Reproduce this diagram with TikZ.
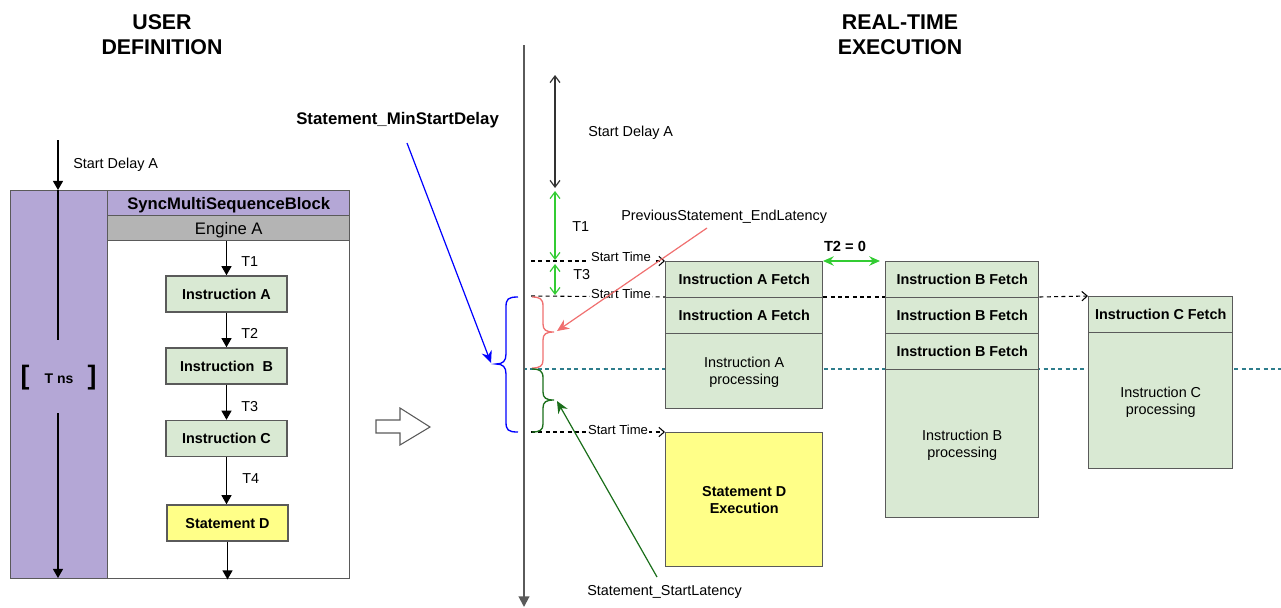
\documentclass[tikz,border=0pt]{standalone}
\usepackage{fontspec}
\setmainfont{Liberation Sans}
\usetikzlibrary{arrows.meta}
\definecolor{purp}{RGB}{180,167,214}
\definecolor{engray}{RGB}{180,180,180}
\definecolor{lgreen}{RGB}{217,233,211}
\definecolor{lyellow}{RGB}{255,255,136}
\definecolor{bgreen}{RGB}{51,204,51}
\definecolor{salmon}{RGB}{240,112,112}
\definecolor{dgreen}{RGB}{26,110,26}
\definecolor{teal2}{RGB}{46,125,140}
\definecolor{edge}{RGB}{90,90,90}
\newcommand\fsz[2]{\fontsize{#1}{#2}\selectfont}
\tikzset{
  every node/.style={text depth=0pt},
  rect/.style 2 args={minimum width=#1*0.75pt, minimum height=#2*0.75pt},
  box/.style={draw=edge, line width=1.1pt, inner sep=0pt, anchor=north west, align=center},
  inst/.style={draw=edge, line width=1.1pt, fill=lgreen, inner sep=0pt, font=\bfseries\fsz{10.8}{13}, rect={121}{36}},
  lbl/.style={inner sep=0pt, font=\fsz{10.8}{13}},
  title/.style={inner sep=0pt, align=center, font=\bfseries\fsz{16}{18.8}},
  arr/.style={line width=0.9pt, -{Triangle[length=6.8pt,width=7.5pt]}},
  barb/.style={line width=0.9pt, {Straight Barb[length=5pt,width=7.5pt]}-{Straight Barb[length=5pt,width=7.5pt]}},
  dsh/.style={line width=0.8pt, dash pattern=on 3pt off 2.5pt, -{Straight Barb[length=4pt,width=7pt]}},
  dshplain/.style={line width=0.8pt, dash pattern=on 3pt off 2.5pt},
  sttime/.style={fill=white, inner sep=1pt, font=\fsz{9.8}{12}},
  pointer/.style={line width=0.9pt, -{Stealth[length=9pt,width=8pt]}},
  fetch/.style={font=\bfseries\fsz{10.8}{13}},
  proc/.style={font=\fsz{10.8}{12.8}},
  brace/.style={line width=1pt}
}
\begin{document}
\begin{tikzpicture}[x=0.75pt,y=-0.75pt]
\useasboundingbox (0,0) rectangle (1281,607);
% titles
\node[title] (t_user) at (162,35) {USER\\DEFINITION};
\node[title] (t_rt) at (900,35) {REAL-TIME\\EXECUTION};
% ===== left panel =====
\node[box, fill=white, rect={339}{388}] (outer) at (10,190) {};
\node[box, fill=purp, rect={97}{388}] (col) at (10,190) {};
\node[box, fill=purp, rect={242}{25}, font=\bfseries\fsz{12.5}{15}] (hdr) at (107,190) {SyncMultiSequenceBlock};
\node[box, fill=engray, rect={242}{25}, font=\fsz{12.5}{15}] (eng) at (107,215) {Engine A};
\node[inst] (ia) at (226.5,294) {Instruction A};
\node[inst] (ib) at (226.5,366) {Instruction\ \ B};
\node[inst] (ic) at (226.5,438.5) {Instruction C};
\node[inst, fill=lyellow] (sd) at (227.5,523) {Statement D};
\draw[arr] (ia.north |- eng.south) -- (ia.north);
\draw[arr] (ia) -- (ib);
\draw[arr] (ib) -- (ic);
\draw[arr] (ic.south) -- (ic.south |- sd.north);
\draw[arr] (sd.south) -- (sd.south |- outer.south);
\node[lbl, anchor=west] (lt1) at (241,262) {T1};
\node[lbl, anchor=west] (lt2) at (241,333) {T2};
\node[lbl, anchor=west] (lt3) at (241,406) {T3};
\node[lbl, anchor=west] (lt4) at (242,479) {T4};
% column
\coordinate (sdtop) at (58,140);
\coordinate (coltop) at (58,190);
\coordinate (gaptop) at (58,340);
\coordinate (gapbot) at (58,413);
\coordinate (colbot) at (58,578);
\draw[arr] (sdtop) -- (coltop);
\node[lbl, anchor=west] (lsd) at (73,163) {Start Delay A};
\draw[line width=0.9pt] (coltop) -- (gaptop);
\draw[arr] (gapbot) -- (colbot);
\node[inner sep=0pt, font=\bfseries\fsz{20}{24}, text depth=] (lb) at (25,378) {[};
\node[inner sep=0pt, font=\bfseries\fsz{10.5}{13}] (tns) at (59,379) {T ns};
\node[inner sep=0pt, font=\bfseries\fsz{20}{24}, text depth=] (rb) at (92,378) {]};
% hollow arrow
\draw[line width=0.8pt, draw=edge, fill=white] (376,420) -- (400,420) -- (400,408) -- (430,427) -- (400,445) -- (400,433) -- (376,433) -- cycle;
% ===== right panel =====
\draw[teal2, dshplain] (523,369) -- (1281,369);
\coordinate (st1) at (531,261);
\coordinate (st2) at (531,296);
\coordinate (st3) at (531,432);
% boxes
\node[box, fill=lgreen, fetch, rect={157}{36}] (fa1) at (665,261) {Instruction A Fetch};
\node[box, fill=lgreen, fetch, rect={157}{36}] (fa2) at (665,297) {Instruction A Fetch};
\node[box, fill=lgreen, proc, rect={157}{75}] (pa) at (665,333) {Instruction A\\processing};
\node[box, fill=lgreen, fetch, rect={153}{36}] (fb1) at (885,261) {Instruction B Fetch};
\node[box, fill=lgreen, fetch, rect={153}{36}] (fb2) at (885,297) {Instruction B Fetch};
\node[box, fill=lgreen, fetch, rect={153}{36}] (fb3) at (885,333) {Instruction B Fetch};
\node[box, fill=lgreen, proc, rect={153}{148}] (pb) at (885,369) {Instruction B\\processing};
\node[box, fill=lgreen, fetch, rect={144}{36}] (fc) at (1088,296) {Instruction C Fetch};
\node[box, fill=lgreen, proc, rect={144}{136}] (pc) at (1088,332) {Instruction C\\processing};
\node[box, fill=lyellow, font=\bfseries\fsz{10.8}{12.8}, rect={157}{134}] (sdx) at (665,432) {Statement D\\Execution};
% dashed start time lines
\draw[dsh] (st1) -- (fa1.north west);
\node[sttime] (stl1) at (621,257) {Start Time};
\draw[dsh] (st3) -- (sdx.north west);
\node[sttime] (stl3) at (618,430) {Start Time};
\draw[dshplain] (st2) -- (fa2.north west);
\draw[dshplain] (fa2.north east) -- (fb2.north west);
\draw[dsh] (fb2.north east) -- (fc.north west);
\node[sttime] (stl2) at (621,294) {Start Time};
% timeline
\coordinate (tltop) at (524,45);
\coordinate (tlbot) at (524,607);
\draw[line width=1.5pt, draw=edge, -{Triangle[length=8pt,width=8pt]}] (tltop) -- (tlbot);
% vertical interval arrows
\coordinate (sdA1) at (555,75);
\coordinate (sdA2) at (555,188);
\coordinate (t1a) at (555,191);
\coordinate (t1b) at (555,260);
\coordinate (t3a) at (555,264);
\coordinate (t3b) at (555,295);
\draw[barb, draw=black!80] (sdA1) -- (sdA2);
\draw[barb, bgreen] (t1a) -- (t1b);
\draw[barb, bgreen] (t3a) -- (t3b);
\node[lbl, anchor=west] (rsd) at (588,131) {Start Delay A};
\node[lbl, anchor=west] (rt1) at (572,227) {T1};
\node[lbl, anchor=west] (rt3) at (573,274) {T3};
% T2 = 0
\node[inner sep=0pt, font=\bfseries\fsz{11}{13}] (t2z) at (845,246) {T2 = 0};
\coordinate (t2a) at (823,261);
\coordinate (t2b) at (880,261);
\draw[bgreen, line width=1.5pt, {Stealth[length=8pt,width=7pt]}-{Stealth[length=8pt,width=7pt]}] (t2a) -- (t2b);
% braces
\draw[blue, brace] (518,297) .. controls (508,297) and (506,299) .. (506,307) -- (506,354) .. controls (506,361) and (503,364) .. (496,364) .. controls (503,364) and (506,367) .. (506,374) -- (506,422) .. controls (506,430) and (508,432) .. (518,432);
\draw[salmon, brace] (532,297) .. controls (540,297) and (543,299) .. (543,306) -- (543,324) .. controls (543,330) and (546,332) .. (554,332) .. controls (546,332) and (543,334) .. (543,340) -- (543,360) .. controls (543,366) and (540,368) .. (532,368);
\draw[dgreen, brace] (532,369) .. controls (540,369) and (543,371) .. (543,378) -- (543,392) .. controls (543,398) and (546,400) .. (554,400) .. controls (546,400) and (543,402) .. (543,408) -- (543,424) .. controls (543,430) and (540,432) .. (532,432);
% pointer labels
\node[inner sep=0pt, anchor=west, font=\bfseries\fsz{12.6}{15}] (minsd) at (296,118) {Statement\_MinStartDelay};
\node[lbl, anchor=west] (prevel) at (621,215) {PreviousStatement\_EndLatency};
\node[lbl, anchor=west] (stlat) at (587,590) {Statement\_StartLatency};
\coordinate (bluefrom) at (407,143);
\coordinate (bluetip) at (491,363);
\coordinate (redfrom) at (707,228);
\coordinate (redtip) at (557,331);
\coordinate (grnfrom) at (657,577);
\coordinate (grntip) at (557,401);
\draw[pointer, blue] (bluefrom) -- (bluetip);
\draw[pointer, salmon] (redfrom) -- (redtip);
\draw[pointer, dgreen] (grnfrom) -- (grntip);
\end{tikzpicture}
\end{document}
